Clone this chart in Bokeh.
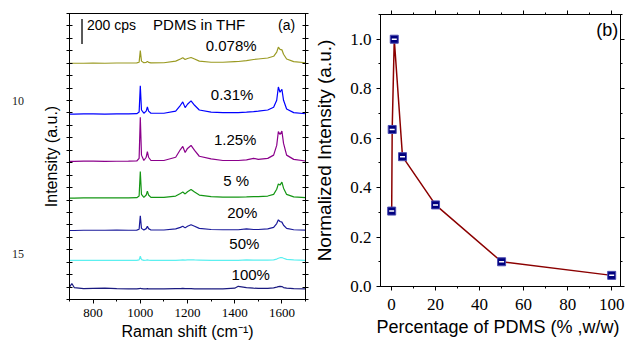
import math
import numpy as np
from bokeh.plotting import figure
from bokeh.layouts import row, column
from bokeh.core.properties import value
from bokeh.models import (Range1d, LinearAxis, SingleIntervalTicker, Label,
                          NumeralTickFormatter, Title, CustomLabelingPolicy)
from bokeh.embed import file_html
from bokeh.resources import INLINE

SANS = "Liberation Sans"
SERIF = "Liberation Serif"

# ---------------- data: Raman spectra of PDMS in THF ----------------
shift = [700, 710, 720, 760, 800, 850, 900, 950, 985, 995, 1000, 1005, 1015,
         1025, 1030, 1035, 1045, 1100, 1150, 1170, 1180, 1190, 1200, 1215,
         1230, 1250, 1300, 1350, 1400, 1415, 1450, 1480, 1500, 1540, 1565,
         1578, 1585, 1592, 1600, 1607, 1620, 1650, 1700]

# intensities above each trace's own baseline (cps)
spec_0078 = [0, 0, 0, 0, 2, 0, 2, 2, 3, 8, 102, 17, 4, 7, 15, 7, 3, 4, 17, 34,
             44, 30, 38, 46, 34, 17, 8, 8, 13, 14, 21, 30, 34, 42, 56, 89, 129,
             112, 108, 72, 34, 13, 4]
spec_031 = [0, 0, 0, 3, 3, 0, 3, 3, 4, 17, 228, 34, 8, 25, 59, 25, 8, 8, 25, 72,
            99, 53, 80, 107, 72, 34, 17, 13, 13, 13, 17, 21, 25, 34, 56, 112, 219,
            177, 201, 112, 42, 13, 4]
spec_125 = [0, 0, 0, 3, 3, 0, 2, 3, 4, 25, 356, 51, 8, 34, 80, 34, 8, 8, 34, 96,
            121, 72, 105, 129, 89, 42, 21, 8, 8, 8, 13, 25, 17, 25, 51, 129, 241,
            217, 244, 145, 51, 17, 4]
spec_5 = [0, 0, 0, 2, 3, 2, 2, 3, 4, 17, 214, 30, 6, 25, 56, 25, 6, 6, 17, 38,
          49, 34, 52, 70, 49, 25, 13, 8, 8, 8, 10, 12, 13, 17, 30, 72, 115, 105,
          129, 80, 30, 10, 4]
spec_20 = [0, 0, 0, 2, 2, 2, 3, 2, 3, 10, 118, 17, 4, 15, 34, 15, 4, 4, 13, 25,
           34, 21, 34, 46, 34, 17, 8, 6, 6, 6, 13, 8, 8, 13, 25, 56, 86, 72, 67,
           42, 17, 6, 3]
spec_50 = [0, 0, 0, 0, 0, 0, 0, 0, 0, 4, 34, 6, 0, 2, 4, 2, 0, 0, 0, 2, 3, 2, 3,
           4, 3, 2, 0, 0, 0, 0, 4, 2, 2, 2, 4, 10, 17, 21, 23, 17, 8, 3, 0]
spec_100 = [17, 46, 13, 4, 6, 8, 4, 3, 2, 4, 8, 4, 2, 3, 4, 3, 2, 3, 4, 4, 6, 4,
            4, 4, 3, 3, 2, 2, 8, 23, 13, 8, 6, 6, 10, 17, 21, 23, 21, 13, 8, 4, 2]

conc_labels = ["0.078%", "0.31%", "1.25%", "5 %", "20%", "50%", "100%"]
offsets = [1900, 1490, 1110, 815, 555, 315, 83]
spectra = [spec_0078, spec_031, spec_125, spec_5, spec_20, spec_50, spec_100]

# ---------------- data: normalized intensity vs concentration ----------------
pdms_pct = [0.078, 0.31, 1.25, 5, 20, 50, 100]
norm_int = [0.305, 0.635, 1.0, 0.525, 0.33, 0.10, 0.045]

# page line numbers printed in the left margin
margin_numbers = ["10", "15"]

# ---------------- styling ----------------
trace_colors = ["#9a9a22", "#0000ff", "#8b008b", "#149614", "#1a1a9a",
                "#5cf0f0", "#1a1a80"]
# label anchor points (data coordinates) for each trace tag
tag_x = [1385, 1389, 1402, 1406, 1432, 1441, 1468]
tag_y = [2042, 1648, 1284, 957, 702, 448, 201]

NO_LABELS = CustomLabelingPolicy(code="return []")


def style_common(p):
    p.xgrid.visible = False
    p.ygrid.visible = False
    p.outline_line_color = "black"
    p.outline_line_width = 1
    p.background_fill_color = "white"
    p.border_fill_color = "white"


def axis_title(text, size, offset, standoff):
    return Title(text=text, align="center", offset=offset, standoff=standoff,
                 text_font=SANS, text_font_size=size, text_font_style="normal",
                 text_color="black")


# ================= margin strip with page line numbers =================
pm = figure(width=30, height=341, x_range=Range1d(0, 30),
            y_range=Range1d(341, 0), output_backend="svg",
            toolbar_location=None, x_axis_location=None, y_axis_location=None,
            min_border=0)
pm.xgrid.visible = False
pm.ygrid.visible = False
pm.outline_line_color = None
pm.text(x=[17.5, 17.5], y=[100, 253], text=margin_numbers,
        text_font=value(SERIF), text_font_size="12px", text_align="center",
        text_baseline="middle", text_color="#222222")

# ================= panel (a): spectra =================
pa = figure(width=280, height=341, x_range=Range1d(700, 1700),
            y_range=Range1d(0, 2300), output_backend="svg",
            toolbar_location=None, min_border_left=39, min_border_right=5,
            min_border_top=13, min_border_bottom=42)
style_common(pa)

x_arr = np.array(shift, dtype=float)
for vals, off, col in zip(spectra, offsets, trace_colors):
    pa.line(x_arr, np.array(vals, dtype=float) + off, line_color=col,
            line_width=1.2)

xa = pa.xaxis[0]
xa.ticker = SingleIntervalTicker(interval=200, num_minor_ticks=2)
xa.major_tick_in = 0
xa.major_tick_out = 4
xa.minor_tick_in = 0
xa.minor_tick_out = 2
xa.major_label_text_font = SERIF
xa.major_label_text_font_size = "13px"
xa.major_label_text_color = "black"
xa.major_label_standoff = 5
xa.axis_line_color = "black"
xa.major_tick_line_color = "black"
xa.minor_tick_line_color = "black"

ya = pa.yaxis[0]
ya.ticker = SingleIntervalTicker(interval=100, num_minor_ticks=0)
ya.major_tick_in = 3
ya.major_tick_out = 3
ya.minor_tick_line_color = None
ya.major_label_policy = NO_LABELS
ya.major_label_text_font_size = "0px"
ya.major_label_standoff = 0
ya.axis_line_color = "black"

ra = LinearAxis(ticker=SingleIntervalTicker(interval=100, num_minor_ticks=0),
                major_tick_in=3, major_tick_out=3, minor_tick_line_color=None,
                major_label_policy=NO_LABELS,
                major_label_text_font_size="0px", major_label_standoff=0,
                axis_line_color="black")
pa.add_layout(ra, "right")

# 200 cps scale bar
bar_x, bar_y0, bar_len = 753, 2055, 200
pa.segment(x0=[bar_x], y0=[bar_y0], x1=[bar_x], y1=[bar_y0 + bar_len],
           line_color="black", line_width=1.3)
pa.add_layout(Label(x=774, y=2211, text="200 cps", text_font=SANS,
                    text_font_size="14px", text_align="left",
                    text_baseline="middle", text_color="black"))
pa.add_layout(Label(x=1250, y=2211, text="PDMS in THF", text_font=SANS,
                    text_font_size="15px", text_align="center",
                    text_baseline="middle", text_color="black"))
pa.add_layout(Label(x=1620, y=2211, text="(a)", text_font=SANS,
                    text_font_size="14px", text_align="center",
                    text_baseline="middle", text_color="black"))

for lab, tx, ty in zip(conc_labels, tag_x, tag_y):
    pa.add_layout(Label(x=tx, y=ty, text=lab, text_font=SANS,
                        text_font_size="15px", text_align="center",
                        text_baseline="middle", text_color="black"))

pa.add_layout(axis_title("Intensity (a.u.)", "16px", 14, 13), "left")
pa.add_layout(axis_title("Raman shift (cm\u207b\u00b9)", "16px", 13, 2),
              "below")

# ================= panel (b): normalized intensity =================
pb = figure(width=316, height=341, x_range=Range1d(-5, 104),
            y_range=Range1d(0, 1.1), output_backend="svg",
            toolbar_location=None, min_border_left=70, min_border_right=6,
            min_border_top=14, min_border_bottom=55)
style_common(pb)


def tick_style(ax, labels=True, standoff=5):
    ax.major_tick_in = 0
    ax.major_tick_out = 4
    ax.minor_tick_in = 0
    ax.minor_tick_out = 2
    ax.axis_line_color = "black"
    ax.major_tick_line_color = "black"
    ax.minor_tick_line_color = "black"
    if labels:
        ax.major_label_text_font = SERIF
        ax.major_label_text_font_size = "17px"
        ax.major_label_text_color = "black"
        ax.major_label_standoff = standoff
    else:
        ax.major_label_policy = NO_LABELS
        ax.major_label_text_font_size = "0px"
        ax.major_label_standoff = 0


xb = pb.xaxis[0]
xb.ticker = SingleIntervalTicker(interval=20, num_minor_ticks=2)
tick_style(xb, standoff=8)
yb = pb.yaxis[0]
yb.ticker = SingleIntervalTicker(interval=0.2, num_minor_ticks=2)
yb.formatter = NumeralTickFormatter(format="0.0")
tick_style(yb)
yb.axis_label = "Normalized Intensity (a.u.)"
yb.axis_label_text_font = SANS
yb.axis_label_text_font_size = "19px"
yb.axis_label_text_font_style = "normal"
yb.axis_label_text_color = "black"
yb.axis_label_standoff = 12

top_ax = LinearAxis(ticker=SingleIntervalTicker(interval=20, num_minor_ticks=2))
tick_style(top_ax, labels=False)
pb.add_layout(top_ax, "above")
right_ax = LinearAxis(ticker=SingleIntervalTicker(interval=0.2, num_minor_ticks=2))
tick_style(right_ax, labels=False)
pb.add_layout(right_ax, "right")

pb.line(pdms_pct, norm_int, line_color="#8b0000", line_width=1.5)
pb.scatter(pdms_pct, norm_int, marker="square", size=8, fill_color="#00007f",
           line_color="#4b4bb0", line_width=1)
pb.scatter(pdms_pct, norm_int, marker="dash", size=5, line_color="white",
           line_width=1.5)

pb.add_layout(Label(x=98, y=1.036, text="(b)", text_font=SANS,
                    text_font_size="18px", text_align="center",
                    text_baseline="middle", text_color="black"))
pb.add_layout(axis_title("Percentage of  PDMS (% ,w/w)", "18px", -5, 5),
              "below")

# each panel sits in its own column so the two frames keep their own borders
layout = row(column(pm), column(pa), column(pb), spacing=0)
open("out.html", "w").write(file_html(layout, INLINE))
